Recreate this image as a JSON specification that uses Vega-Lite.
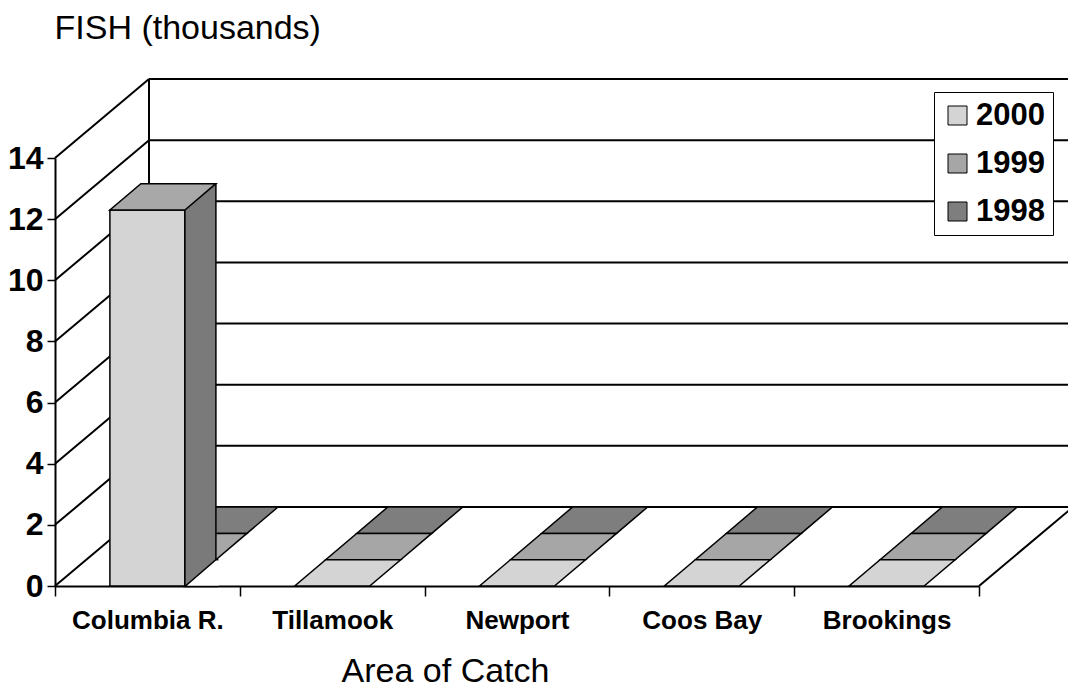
{
  "$schema": "https://vega.github.io/schema/vega-lite/v6.json",
  "autosize": "none",
  "width": 924,
  "height": 428,
  "padding": {"left": 55, "top": 158, "right": 89, "bottom": 104},
  "background": "white",
  "config": {
    "view": {"stroke": null},
    "font": "Liberation Sans",
    "axisX": {
      "domainColor": "black", "domainWidth": 2, "tickColor": "black", "tickWidth": 1.5, "tickSize": 10,
      "tickBand": "extent", "labelFont": "Liberation Sans", "labelFontSize": 26, "labelFontWeight": "bold",
      "labelColor": "black", "labelPadding": 11, "labelAngle": 0, "grid": false,
      "titleFont": "Liberation Sans", "titleFontSize": 34, "titleFontWeight": "normal", "titleColor": "black",
      "titleX": 390, "titleY": 95, "titleAlign": "center", "titleBaseline": "alphabetic", "zindex": 1
    },
    "axisY": {
      "domainColor": "black", "domainWidth": 2, "tickColor": "black", "tickWidth": 1.5, "tickSize": 8,
      "tickCount": 7, "labelFont": "Liberation Sans", "labelFontSize": 32, "labelFontWeight": "bold",
      "labelColor": "black", "labelPadding": 4, "grid": false,
      "titleFont": "Liberation Sans", "titleFontSize": 34, "titleFontWeight": "normal", "titleColor": "black",
      "titleAngle": 0, "titleX": -1, "titleY": -120, "titleAlign": "left", "titleBaseline": "alphabetic", "zindex": 1
    },
    "legend": {
      "fillColor": "white", "strokeColor": "black", "padding": 8, "symbolType": "square", "symbolSize": 361,
      "symbolStrokeColor": "black", "symbolStrokeWidth": 1, "symbolOpacity": 1,
      "labelFont": "Liberation Sans", "labelFontSize": 31, "labelFontWeight": "bold", "labelColor": "black",
      "labelOffset": 3, "rowPadding": 16
    }
  },
  "datasets": {
    "catch": [
      {"area": "Columbia R.", "year": "2000", "fish": 12.3},
      {"area": "Columbia R.", "year": "1999", "fish": 0},
      {"area": "Columbia R.", "year": "1998", "fish": 0},
      {"area": "Tillamook", "year": "2000", "fish": 0},
      {"area": "Tillamook", "year": "1999", "fish": 0},
      {"area": "Tillamook", "year": "1998", "fish": 0},
      {"area": "Newport", "year": "2000", "fish": 0},
      {"area": "Newport", "year": "1999", "fish": 0},
      {"area": "Newport", "year": "1998", "fish": 0},
      {"area": "Coos Bay", "year": "2000", "fish": 0},
      {"area": "Coos Bay", "year": "1999", "fish": 0},
      {"area": "Coos Bay", "year": "1998", "fish": 0},
      {"area": "Brookings", "year": "2000", "fish": 0},
      {"area": "Brookings", "year": "1999", "fish": 0},
      {"area": "Brookings", "year": "1998", "fish": 0}
    ],
    "grid": [
      {"v": 0}, {"v": 2}, {"v": 4}, {"v": 6}, {"v": 8}, {"v": 10}, {"v": 12}, {"v": 14}
    ],
    "edge": [{"part": "wall"}]
  },
  "layer": [
    {
      "data": {"name": "grid"},
      "mark": {"type": "rule", "color": "black", "strokeWidth": 2, "xOffset": 94, "x2Offset": 94, "yOffset": -79, "y2Offset": -79},
      "encoding": {
        "x": {"datum": "Columbia R.", "type": "nominal", "bandPosition": 0,
              "scale": {"domain": ["Columbia R.", "Tillamook", "Newport", "Coos Bay", "Brookings"], "paddingInner": 0, "paddingOuter": 0},
              "title": "Area of Catch"},
        "x2": {"datum": "Brookings", "bandPosition": 1},
        "y": {"field": "v", "type": "quantitative", "scale": {"domain": [0, 14], "nice": false}, "title": "FISH (thousands)"},
        "y2": {"field": "v"}
      }
    },
    {
      "data": {"name": "grid"},
      "mark": {"type": "rule", "color": "black", "strokeWidth": 2, "x2Offset": 94, "y2Offset": -79},
      "encoding": {
        "x": {"datum": "Columbia R.", "type": "nominal", "bandPosition": 0,
              "scale": {"domain": ["Columbia R.", "Tillamook", "Newport", "Coos Bay", "Brookings"], "paddingInner": 0, "paddingOuter": 0},
              "title": "Area of Catch"},
        "x2": {"datum": "Columbia R.", "bandPosition": 0},
        "y": {"field": "v", "type": "quantitative", "scale": {"domain": [0, 14], "nice": false}, "title": "FISH (thousands)"},
        "y2": {"field": "v"}
      }
    },
    {
      "data": {"name": "edge"},
      "mark": {"type": "rule", "color": "black", "strokeWidth": 2, "xOffset": 94, "yOffset": -79, "y2Offset": -79},
      "encoding": {
        "x": {"datum": "Columbia R.", "type": "nominal", "bandPosition": 0,
              "scale": {"domain": ["Columbia R.", "Tillamook", "Newport", "Coos Bay", "Brookings"], "paddingInner": 0, "paddingOuter": 0},
              "title": "Area of Catch"},
        "y": {"datum": 14, "type": "quantitative", "scale": {"domain": [0, 14], "nice": false}, "title": "FISH (thousands)"},
        "y2": {"datum": 0}
      }
    },
    {
      "data": {"name": "edge"},
      "mark": {"type": "rule", "color": "black", "strokeWidth": 2, "x2Offset": 94, "y2Offset": -79},
      "encoding": {
        "x": {"datum": "Brookings", "type": "nominal", "bandPosition": 1,
              "scale": {"domain": ["Columbia R.", "Tillamook", "Newport", "Coos Bay", "Brookings"], "paddingInner": 0, "paddingOuter": 0},
              "title": "Area of Catch"},
        "x2": {"datum": "Brookings", "bandPosition": 1},
        "y": {"datum": 0, "type": "quantitative", "scale": {"domain": [0, 14], "nice": false}, "title": "FISH (thousands)"},
        "y2": {"datum": 0}
      }
    },
    {
      "data": {"name": "catch"},
      "transform": [{"filter": "datum.year === '1998'"}],
      "mark": {"type": "point", "shape": "M-0.375,0 L0.375,0 L0.685,-0.263 L-0.065,-0.263 Z", "size": 40000,
               "filled": true, "opacity": 1, "stroke": "black", "strokeWidth": 1.5, "xOffset": 62, "yOffset": -52.6},
      "encoding": {
        "x": {"field": "area", "type": "nominal",
              "scale": {"domain": ["Columbia R.", "Tillamook", "Newport", "Coos Bay", "Brookings"], "paddingInner": 0, "paddingOuter": 0},
              "title": "Area of Catch"},
        "y": {"field": "fish", "type": "quantitative", "scale": {"domain": [0, 14], "nice": false}, "title": "FISH (thousands)"},
        "fill": {"field": "year", "type": "nominal", "title": null,
                 "scale": {"domain": ["2000", "1999", "1998"], "range": ["#d4d4d4", "#a6a6a6", "#7e7e7e"]},
                 "legend": {"orient": "none", "legendX": 879, "legendY": -66, "title": null}}
      }
    },
    {
      "data": {"name": "catch"},
      "transform": [{"filter": "datum.year === '1999'"}],
      "mark": {"type": "point", "shape": "M-0.375,0 L0.375,0 L0.685,-0.263 L-0.065,-0.263 Z", "size": 40000,
               "filled": true, "opacity": 1, "stroke": "black", "strokeWidth": 1.5, "xOffset": 31, "yOffset": -26.3},
      "encoding": {
        "x": {"field": "area", "type": "nominal",
              "scale": {"domain": ["Columbia R.", "Tillamook", "Newport", "Coos Bay", "Brookings"], "paddingInner": 0, "paddingOuter": 0},
              "title": "Area of Catch"},
        "y": {"field": "fish", "type": "quantitative", "scale": {"domain": [0, 14], "nice": false}, "title": "FISH (thousands)"},
        "fill": {"field": "year", "type": "nominal", "title": null,
                 "scale": {"domain": ["2000", "1999", "1998"], "range": ["#d4d4d4", "#a6a6a6", "#7e7e7e"]},
                 "legend": {"orient": "none", "legendX": 879, "legendY": -66, "title": null}}
      }
    },
    {
      "data": {"name": "catch"},
      "transform": [{"filter": "datum.year === '2000' && datum.fish > 0"}],
      "mark": {"type": "bar", "width": 75, "stroke": "black", "strokeWidth": 1.5, "opacity": 1},
      "encoding": {
        "x": {"field": "area", "type": "nominal",
              "scale": {"domain": ["Columbia R.", "Tillamook", "Newport", "Coos Bay", "Brookings"], "paddingInner": 0, "paddingOuter": 0},
              "title": "Area of Catch"},
        "y": {"field": "fish", "type": "quantitative", "scale": {"domain": [0, 14], "nice": false}, "title": "FISH (thousands)"},
        "y2": {"datum": 0},
        "fill": {"field": "year", "type": "nominal", "title": null,
                 "scale": {"domain": ["2000", "1999", "1998"], "range": ["#d4d4d4", "#a6a6a6", "#7e7e7e"]},
                 "legend": {"orient": "none", "legendX": 879, "legendY": -66, "title": null}}
      }
    },
    {
      "data": {"name": "catch"},
      "transform": [{"filter": "datum.year === '2000' && datum.fish > 0"}],
      "mark": {"type": "bar", "width": 31, "xOffset": 53, "yOffset": -26.3, "fill": "#7a7a7a", "stroke": "black", "strokeWidth": 1.5, "opacity": 1},
      "encoding": {
        "x": {"field": "area", "type": "nominal",
              "scale": {"domain": ["Columbia R.", "Tillamook", "Newport", "Coos Bay", "Brookings"], "paddingInner": 0, "paddingOuter": 0},
              "title": "Area of Catch"},
        "y": {"field": "fish", "type": "quantitative", "scale": {"domain": [0, 14], "nice": false}, "title": "FISH (thousands)"},
        "y2": {"datum": 0}
      }
    },
    {
      "data": {"name": "catch"},
      "transform": [{"filter": "datum.year === '2000' && datum.fish > 0"}],
      "mark": {"type": "point", "shape": "M0.71,0.005 L0.375,0.005 L0.685,-0.263 L0.71,-0.263", "size": 40000,
               "filled": true, "fill": "white", "opacity": 1, "stroke": "black", "strokeWidth": 1.5},
      "encoding": {
        "x": {"field": "area", "type": "nominal",
              "scale": {"domain": ["Columbia R.", "Tillamook", "Newport", "Coos Bay", "Brookings"], "paddingInner": 0, "paddingOuter": 0},
              "title": "Area of Catch"},
        "y": {"datum": 0, "type": "quantitative", "scale": {"domain": [0, 14], "nice": false}, "title": "FISH (thousands)"}
      }
    },
    {
      "data": {"name": "catch"},
      "transform": [{"filter": "datum.year === '2000'"}],
      "mark": {"type": "point", "shape": "M-0.375,0 L0.375,0 L0.685,-0.263 L-0.065,-0.263 Z", "size": 40000,
               "filled": true, "opacity": 1, "stroke": "black", "strokeWidth": 1.5},
      "encoding": {
        "x": {"field": "area", "type": "nominal",
              "scale": {"domain": ["Columbia R.", "Tillamook", "Newport", "Coos Bay", "Brookings"], "paddingInner": 0, "paddingOuter": 0},
              "title": "Area of Catch"},
        "y": {"field": "fish", "type": "quantitative", "scale": {"domain": [0, 14], "nice": false}, "title": "FISH (thousands)"},
        "fill": {"condition": {"test": "datum.fish > 0", "value": "#a8a8a8"},
                 "field": "year", "type": "nominal", "title": null,
                 "scale": {"domain": ["2000", "1999", "1998"], "range": ["#d4d4d4", "#a6a6a6", "#7e7e7e"]},
                 "legend": {"orient": "none", "legendX": 879, "legendY": -66, "title": null}}
      }
    }
  ]
}
